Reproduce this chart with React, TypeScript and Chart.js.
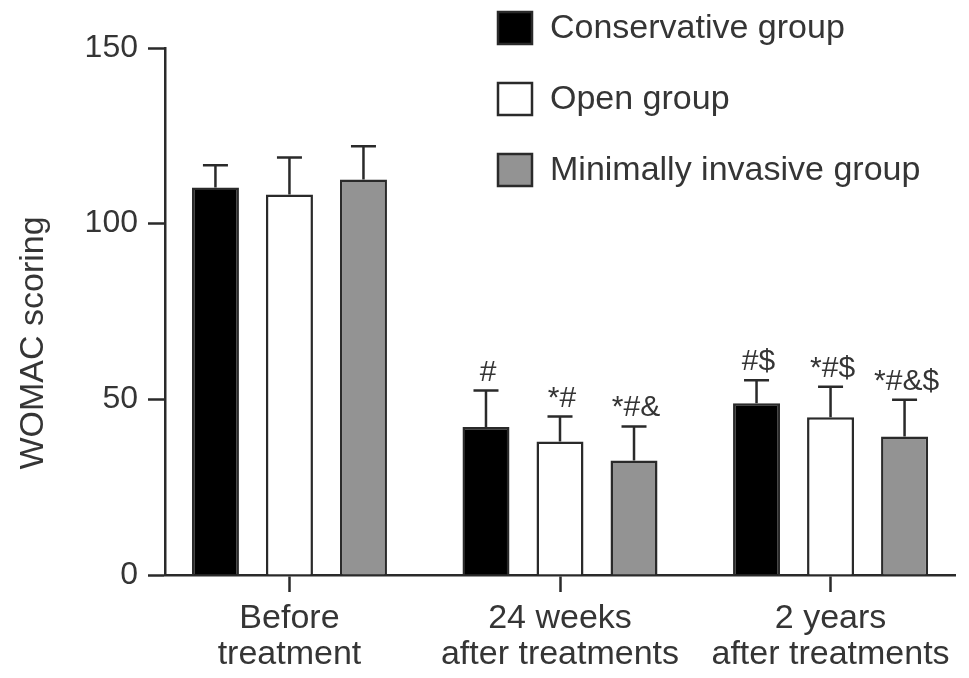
import { useEffect, useRef } from "react";
import { Chart, registerables } from "chart.js";

Chart.register(...registerables);

const categories: string[][] = [
  ["Before", "treatment"],
  ["24 weeks", "after treatments"],
  ["2 years", "after treatments"],
];
const seriesNames = ["Conservative group", "Open group", "Minimally invasive group"];
const conservativeMeans = [110.3, 42.1, 48.9];
const conservativeSD = [6.3, 10.4, 6.5];
const openMeans = [108.3, 38.0, 44.9];
const openSD = [10.5, 7.1, 8.7];
const minimalMeans = [112.6, 32.6, 39.4];
const minimalSD = [9.4, 9.7, 10.5];
const conservativeMarks = ["", "#", "#$"];
const openMarks = ["", "*#", "*#$"];
const minimalMarks = ["", "*#&", "*#&$"];
const yTickValues = [0, 50, 100, 150];
const yTitle = "WOMAC scoring";

const seriesColors = ["#000000", "#ffffff", "#939393"];
const INK = "#2a2a2a";
const TEXT = "#353535";
const FONT = "'Liberation Sans', Arial, sans-serif";

export default function App() {
  const ref = useRef<HTMLCanvasElement | null>(null);

  useEffect(() => {
    document.body.style.margin = "0";
    const canvas = ref.current;
    if (!canvas) return;

    const means = [conservativeMeans, openMeans, minimalMeans];
    const sds = [conservativeSD, openSD, minimalSD];
    const marks = [conservativeMarks, openMarks, minimalMarks];

    const overlay = {
      id: "overlay",
      afterDatasetsDraw(chart: any) {
        const ctx = chart.ctx;
        const yScale = chart.scales.y;
        ctx.save();
        ctx.strokeStyle = INK;
        ctx.lineWidth = 2.5;
        ctx.fillStyle = TEXT;
        ctx.textAlign = "center";
        ctx.textBaseline = "alphabetic";
        ctx.font = `30px ${FONT}`;
        chart.data.datasets.forEach((_ds: any, di: number) => {
          const meta = chart.getDatasetMeta(di);
          meta.data.forEach((el: any, i: number) => {
            const top = yScale.getPixelForValue(means[di][i] + sds[di][i]);
            ctx.beginPath();
            ctx.moveTo(el.x, el.y);
            ctx.lineTo(el.x, top);
            ctx.moveTo(el.x - 12.5, top);
            ctx.lineTo(el.x + 12.5, top);
            ctx.stroke();
            const m = marks[di][i];
            if (m) ctx.fillText(m, el.x + 2, top - 10);
          });
        });
        ctx.restore();
      },
      afterDraw(chart: any) {
        const ctx = chart.ctx;
        ctx.save();
        const rows = [28, 99, 170];
        chart.data.datasets.forEach((ds: any, di: number) => {
          const cy = rows[di];
          ctx.fillStyle = ds.backgroundColor;
          ctx.fillRect(498, cy - 16, 34, 32);
          ctx.strokeStyle = INK;
          ctx.lineWidth = 2.5;
          ctx.strokeRect(498, cy - 16, 34, 32);
          ctx.fillStyle = TEXT;
          ctx.font = `34px ${FONT}`;
          ctx.textAlign = "left";
          ctx.textBaseline = "middle";
          ctx.fillText(ds.label, 550, cy + 1);
        });
        ctx.translate(34, 343);
        ctx.rotate(-Math.PI / 2);
        ctx.fillStyle = TEXT;
        ctx.font = `34px ${FONT}`;
        ctx.textAlign = "center";
        ctx.textBaseline = "middle";
        ctx.fillText(yTitle, 0, 0);
        ctx.restore();
      },
    };

    const chart = new Chart(canvas, {
      type: "bar",
      data: {
        datasets: seriesNames.map((name, di) => ({
          label: name,
          data: means[di].map((v, i) => ({ x: i, y: v })),
          backgroundColor: seriesColors[di],
          borderColor: INK,
          borderWidth: 2.5,
          categoryPercentage: 0.8207,
          barPercentage: 0.635,
        })),
      },
      options: {
        animation: false,
        responsive: true,
        maintainAspectRatio: false,
        events: [],
        layout: { padding: { top: 48, right: 14, bottom: 0, left: 0 } },
        plugins: { legend: { display: false }, tooltip: { enabled: false } },
        scales: {
          x: {
            type: "linear",
            offset: false,
            min: -0.46,
            max: 2.46,
            afterBuildTicks: (s: any) => {
              s.ticks = categories.map((_c, i) => ({ value: i }));
            },
            afterFit: (s: any) => {
              s.height = 103;
            },
            ticks: {
              autoSkip: false,
              maxRotation: 0,
              padding: 9,
              color: TEXT,
              font: { family: FONT, size: 34, lineHeight: 1.05 },
              callback: (v: any) => categories[v as number],
            },
            grid: {
              display: true,
              offset: false,
              drawOnChartArea: false,
              drawTicks: true,
              tickLength: 17,
              tickWidth: 2.5,
              tickColor: INK,
            },
            border: { display: true, color: INK, width: 2.5 },
          },
          y: {
            min: 0,
            max: 150,
            afterBuildTicks: (s: any) => {
              s.ticks = yTickValues.map((v) => ({ value: v }));
            },
            afterFit: (s: any) => {
              s.width = 165;
            },
            ticks: {
              padding: 10,
              color: TEXT,
              font: { family: FONT, size: 32 },
            },
            grid: {
              display: true,
              drawOnChartArea: false,
              drawTicks: true,
              tickLength: 17,
              tickWidth: 2.5,
              tickColor: INK,
            },
            border: { display: true, color: INK, width: 2.5 },
          },
        },
      },
      plugins: [overlay],
    } as any);

    return () => chart.destroy();
  }, []);

  return (
    <div style={{ width: 969, height: 678, position: "relative" }}>
      <canvas ref={ref} />
    </div>
  );
}
